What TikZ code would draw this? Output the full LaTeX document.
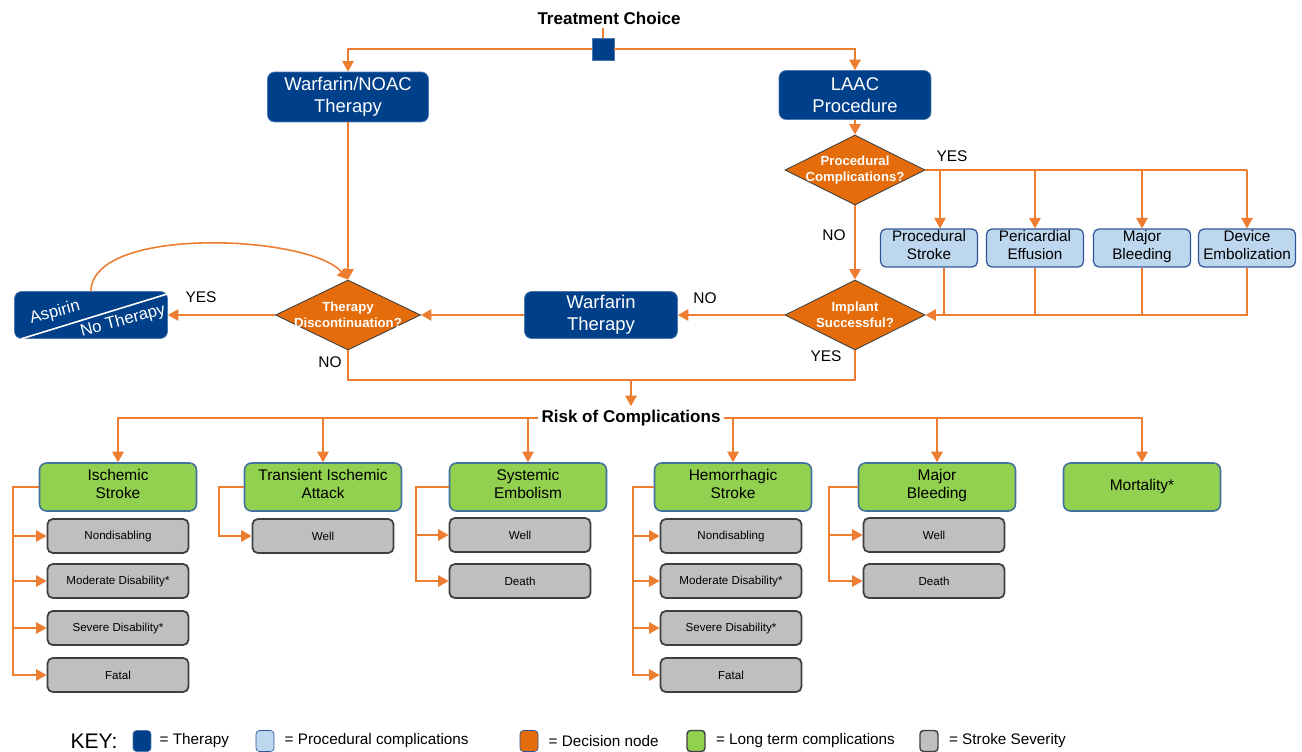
\documentclass[tikz,border=0pt]{standalone}
\usepackage{fontspec}
\setmainfont{Liberation Sans}
\usetikzlibrary{shapes.geometric,arrows.meta,positioning,calc}
\definecolor{therapyblue}{HTML}{00408A}
\definecolor{procblue}{HTML}{BDD7EE}
\definecolor{procedge}{HTML}{2F5597}
\definecolor{decorange}{HTML}{E46C0A}
\definecolor{linkorange}{HTML}{ED7D31}
\definecolor{ltcgreen}{HTML}{92D050}
\definecolor{ltcedge}{HTML}{41719C}
\definecolor{sevgray}{HTML}{BFBFBF}
\definecolor{sevedge}{HTML}{3F3F3F}

\begin{document}
\begin{tikzpicture}[x=0.02cm, y=-0.02cm,
  therapy/.style={draw=therapyblue!70!white, fill=therapyblue, text=white, rounded corners=4pt, align=center, font=\fontsize{10.5}{12.5}\selectfont, inner sep=1pt},
  proc/.style={draw=procedge, line width=0.7pt, fill=procblue, rounded corners=3pt, align=center, font=\fontsize{8.7}{10.2}\selectfont, minimum width=1.94cm, minimum height=0.72cm, inner sep=1pt, execute at begin node=\strut, execute at end node=\strut},
  decision/.style={diamond, draw=black!75, line width=0.5pt, fill=decorange, minimum width=2.8cm, minimum height=1.4cm, inner sep=0pt},
  dtext/.style={text=white, align=center, font=\bfseries\fontsize{7.5}{9}\selectfont},
  ltc/.style={draw=ltcedge, line width=0.9pt, fill=ltcgreen, rounded corners=4pt, align=center, font=\fontsize{8.8}{10.2}\selectfont, minimum width=3.14cm, minimum height=0.96cm, inner sep=1pt, execute at begin node=\strut, execute at end node=\strut},
  sev/.style={draw=sevedge, line width=1pt, fill=sevgray, rounded corners=3pt, font=\fontsize{6.6}{8}\selectfont, minimum width=2.82cm, minimum height=0.68cm, inner sep=1pt},
  lbl/.style={font=\fontsize{8.8}{10}\selectfont, inner sep=1pt},
  head/.style={font=\bfseries\fontsize{9.7}{11}\selectfont, inner sep=2pt},
  line/.style={draw=linkorange, line width=0.9pt},
  arr/.style={line, -{Triangle[width=6.5pt,length=6pt]}},
  keybox/.style={rounded corners=2pt, minimum width=0.36cm, minimum height=0.42cm, inner sep=0pt},
  keylbl/.style={font=\fontsize{8.7}{10}\selectfont, inner sep=0pt}
]
\useasboundingbox (0,0) rectangle (1302,751);

% treatment choice
\node[head] (tc) at (609,18) {Treatment Choice};
\node[draw=therapyblue!70!white, fill=therapyblue, minimum size=0.44cm, inner sep=0pt] (sq) at (603,49) {};
\draw[line] (sq.north |- tc.south) -- (sq.north);
\node[therapy, minimum width=3.22cm, minimum height=1.0cm] (warf) at (348,97) {Warfarin/NOAC\\Therapy};
\node[therapy, minimum width=3.04cm, minimum height=0.98cm] (laac) at (855,95) {LAAC\\Procedure};
\draw[arr] (sq.west) -| (warf.north);
\draw[arr] (sq.east) -| (laac.north);

% LAAC branch
\node[decision, label={[dtext]center:Procedural\\Complications?}] (pc) at (855,170) {};
\node[decision, label={[dtext]center:Implant\\Successful?}] (impl) at (855,315) {};
\draw[arr] (laac.south) -- (pc.north);
\draw[arr] (pc.south) -- (impl.north);
\node[lbl] (yes1) at (952,156) {YES};
\node[lbl] (no1) at (834,235) {NO};

\node[proc] (ps) at (929,248) {Procedural\\Stroke};
\node[proc] (pe) at (1035,248) {Pericardial\\Effusion};
\node[proc] (mb) at (1142,248) {Major\\Bleeding};
\node[proc] (de) at (1247,248) {Device\\Embolization};
\draw[line] (pc.east) -- (pc.east -| de.north);
\draw[arr] ([xshift=0.22cm]ps.north |- pc.east) -- ([xshift=0.22cm]ps.north);
\foreach \b in {pe,mb,de} \draw[arr] (pc.east -| \b.north) -- (\b.north);
\draw[arr] (de.south) |- (impl.east);
\draw[line] ([xshift=0.3cm]ps.south) -- ([xshift=0.3cm]ps.south |- impl.east);
\foreach \b in {pe,mb} \draw[line] (\b.south) -- (\b.south |- impl.east);

% warfarin / discontinuation
\node[therapy, minimum width=3.06cm, minimum height=0.94cm] (wt) at (601,315) {Warfarin\\Therapy};
\node[decision, minimum width=2.9cm, label={[dtext]center:Therapy\\Discontinuation?}] (td) at (348,315) {};
\node[therapy, minimum width=3.06cm, minimum height=0.94cm] (asp) at (91,315) {};
\draw[white, line width=0.9pt] ([xshift=4pt]asp.south west) -- ([yshift=-1.5pt]asp.north east);
\node[text=white, rotate=15, font=\fontsize{9.5}{11}\selectfont, inner sep=0pt] (asptxt) at (55,313) {Aspirin};
\node[text=white, rotate=15, font=\fontsize{9.5}{11}\selectfont, inner sep=0pt] (notxt) at (123,321) {No Therapy};
\draw[arr] (impl.west) -- (wt.east);
\draw[arr] (wt.west) -- (td.east);
\draw[arr] (td.west) -- (asp.east);
\draw[arr] (warf.south) -- (td.north);
\draw[arr] (asp.north) .. controls (92,225) and (310,235) .. (td.north);
\node[lbl] (no2) at (705,298) {NO};
\node[lbl] (yes2) at (826,356) {YES};
\node[lbl] (yes3) at (201,297) {YES};
\node[lbl] (no3) at (330,362) {NO};

% risk of complications
\coordinate (mrg) at (631,380);
\node[head] (risk) at (631,418) {Risk of Complications};
\draw[line] (td.south) |- (mrg) -| (impl.south);
\draw[arr] (mrg) -- (risk.north);

\node[ltc] (is) at (118,487) {Ischemic\\Stroke};
\node[ltc] (tia) at (323,487) {Transient Ischemic\\Attack};
\node[ltc] (se) at (528,487) {Systemic\\Embolism};
\node[ltc] (hs) at (733,487) {Hemorrhagic\\Stroke};
\node[ltc] (mbl) at (937,487) {Major\\Bleeding};
\node[ltc] (mort) at (1142,487) {Mortality*};
\draw[arr] (risk.west) -| (is.north);
\draw[arr] (risk.east) -| (mort.north);
\foreach \g in {tia,se} \draw[arr] (\g.north |- risk.west) -- (\g.north);
\foreach \g in {hs,mbl} \draw[arr] (\g.north |- risk.east) -- (\g.north);

% stroke severity
\node[sev] (is1) at (118,536) {Nondisabling};
\node[sev] (is2) at (118,581) {Moderate Disability*};
\node[sev] (is3) at (118,628) {Severe Disability*};
\node[sev] (is4) at (118,675) {Fatal};
\node[sev] (tia1) at (323,536) {Well};
\node[sev] (se1) at (520,535) {Well};
\node[sev] (se2) at (520,581) {Death};
\node[sev] (hs1) at (731,536) {Nondisabling};
\node[sev] (hs2) at (731,581) {Moderate Disability*};
\node[sev] (hs3) at (731,628) {Severe Disability*};
\node[sev] (hs4) at (731,675) {Fatal};
\node[sev] (mb1) at (934,535) {Well};
\node[sev] (mb2) at (934,581) {Death};
\foreach \g in {is1,is2,is3,is4} \draw[arr] (is.west) -- ++(-26,0) |- (\g.west);
\draw[arr] (tia.west) -- ++(-25,0) |- (tia1.west);
\foreach \g in {se1,se2} \draw[arr] (se.west) -- ++(-33,0) |- (\g.west);
\foreach \g in {hs1,hs2,hs3,hs4} \draw[arr] (hs.west) -- ++(-21,0) |- (\g.west);
\foreach \g in {mb1,mb2} \draw[arr] (mbl.west) -- ++(-29,0) |- (\g.west);

% key
\node[font=\fontsize{12}{14}\selectfont, inner sep=0pt] (key) at (94,741) {KEY:};
\node[keybox, draw=therapyblue!70!white, fill=therapyblue] (k1) at (142,741) {};
\node[keylbl, right=0.16cm of k1] (k1l) {= Therapy};
\node[keybox, draw=procedge, fill=procblue] (k2) at (265,741) {};
\node[keylbl, right=0.2cm of k2] (k2l) {= Procedural complications};
\node[keybox, draw=procedge, fill=decorange] (k3) at (529,741) {};
\node[keylbl, right=0.2cm of k3] (k3l) {= Decision node};
\node[keybox, draw=black!75, line width=0.8pt, fill=ltcgreen] (k4) at (696,741) {};
\node[keylbl, right=0.2cm of k4] (k4l) {= Long term complications};
\node[keybox, draw=sevedge, line width=0.8pt, fill=sevgray] (k5) at (929,741) {};
\node[keylbl, right=0.2cm of k5] (k5l) {= Stroke Severity};
\end{tikzpicture}
\end{document}
